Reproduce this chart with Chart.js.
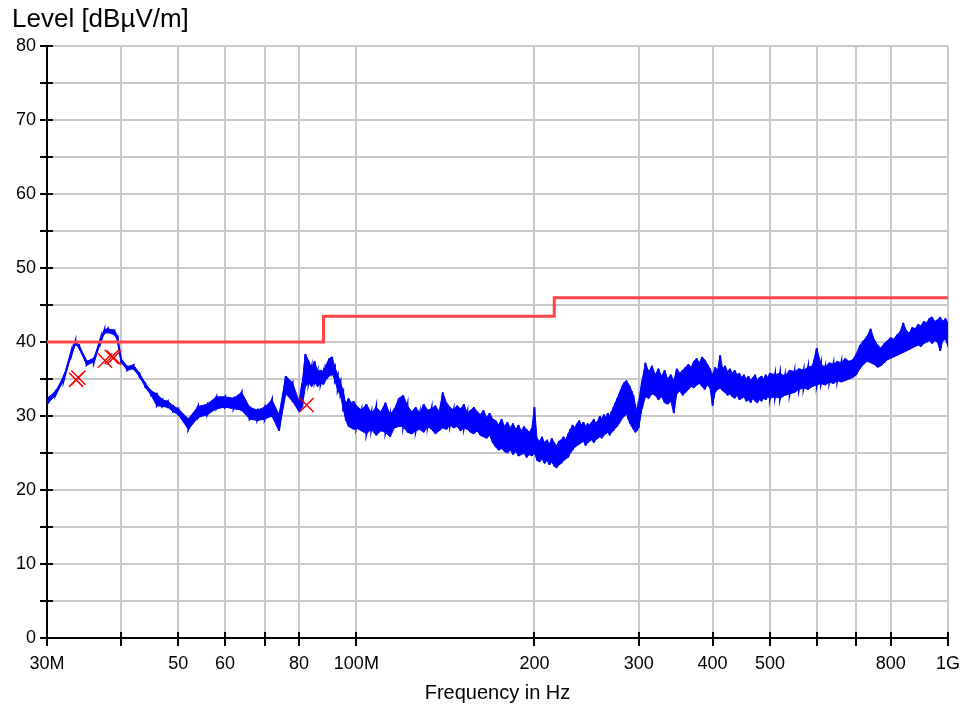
<!DOCTYPE html>
<html><head><meta charset="utf-8">
<script src="https://cdn.jsdelivr.net/npm/chart.js@4.4.1/dist/chart.umd.min.js"></script>
<style>html,body{margin:0;padding:0;background:#fff;}canvas{display:block;}</style>
</head><body>
<canvas id="c" width="960" height="706"></canvas>
<script>
// ---- measured trace (MHz), max/min level per frequency bin (dBµV/m)
const freqMHz = [
  30,31,32,33,33.5,34,35,36,37,37.5,38,39,39.5,40,41,42,43,44,45,46,47,48,49,50,
  52,54,56,58,60,62,64,66,68,70,72,74,76,78,80,
  81,82,83,84,85,86,87,88,89,90,91,92,93,94,95,96,97,98,99,100,
  102,104,106,108,110,112,114,116,118,120,122,124,126,128,130,132,134,136,138,140,
  142,144,146,148,150,152,154,156,158,160,162,164,166,168,170,172,174,176,178,180,
  182,184,186,188,190,192,194,196,198,200,
  202,204,206,208,210,212,214,216,218,220,222,224,226,228,230,232,234,236,238,240,
  242,244,246,248,250,252,254,256,258,260,262,264,266,268,270,272,274,276,278,280,
  282,284,286,288,290,292,294,296,298,300,
  304,308,312,316,320,324,328,332,336,340,344,348,352,356,360,364,368,372,376,380,
  384,388,392,396,400,404,408,412,416,420,424,428,432,436,440,444,448,452,456,460,
  464,468,472,476,480,484,488,492,496,500,
  510,520,530,540,550,560,570,580,590,600,610,620,630,640,650,660,670,680,690,700,
  710,720,730,740,750,760,770,780,790,800,810,820,830,840,850,860,870,880,890,900,
  910,920,930,940,950,960,970,980,990,1000
];
const levelMax = [
  32.4,33.3,35.3,38.8,40.1,39.6,37.4,37.8,40.6,41.6,41.8,41.6,40.8,37.8,36.7,36.9,35.8,34.4,33.4,33.0,32.2,32.0,31.4,31.0,
  29.6,31.3,31.6,32.6,32.6,32.4,33.2,31.2,30.8,31.2,32.2,30.2,35.4,34.5,32.0,
  34.5,38.4,37.5,36.5,37.4,36.0,36.2,36.0,37.0,37.8,38.0,36.6,35.6,34.6,33.4,31.6,32.4,31.8,32.0,31.4,
  30.8,31.6,30.4,31.2,30.6,31.8,30.2,31.0,32.4,32.8,31.4,30.6,31.2,30.4,31.6,30.8,31.0,31.4,30.6,33.2,
  31.8,31.2,30.8,31.4,31.0,31.6,30.4,30.8,31.2,30.6,30.2,30.8,29.8,30.4,29.6,29.4,28.8,29.6,28.6,29.2,
  28.4,29.0,28.2,28.8,28.0,28.6,28.2,27.8,28.4,31.2,
  27.0,26.6,27.2,26.4,26.8,26.2,27.0,26.4,26.0,26.6,26.8,27.2,26.8,27.6,28.2,28.8,28.4,29.0,29.4,28.8,
  29.2,28.6,29.0,28.8,29.2,29.6,29.0,29.4,30.0,29.6,30.2,29.8,30.4,30.0,30.6,31.2,31.8,32.4,33.0,33.6,
  34.2,34.6,34.8,34.4,34.0,33.4,32.8,31.6,30.6,32.0,
  34.8,37.2,36.0,36.8,35.6,36.4,35.4,36.2,35.0,35.6,34.8,36.4,35.8,36.2,36.6,37.0,36.6,37.4,37.8,37.2,
  38.0,37.6,37.0,36.4,35.6,36.6,36.2,38.2,36.4,36.8,36.0,36.4,35.8,36.2,35.6,35.8,35.2,35.6,35.0,35.4,
  34.8,35.2,35.6,34.8,35.2,35.4,35.0,35.6,35.2,35.8,
  35.6,35.8,35.4,36.2,36.0,36.4,36.2,36.6,36.8,39.2,37.0,36.6,37.2,37.0,37.4,37.2,37.8,37.4,37.6,38.4,
  39.6,40.2,40.8,41.8,40.4,39.6,39.2,39.8,40.2,40.6,40.4,41.0,41.4,42.6,41.6,41.2,42.0,41.8,42.4,42.2,
  42.8,42.6,43.2,43.4,42.8,43.0,43.4,42.8,43.2,42.6
];
const levelMin = [
  31.6,32.8,34.8,38.3,39.7,39.2,36.9,37.3,40.1,41.2,41.3,41.0,40.2,37.3,36.2,36.4,35.3,33.9,32.8,31.4,31.3,31.2,30.6,30.2,
  28.2,29.8,30.2,31.0,31.2,31.0,30.8,29.6,29.4,29.6,30.0,28.0,33.0,32.0,30.6,
  31.2,34.0,34.5,34.0,34.6,34.0,34.4,34.3,35.0,35.4,35.8,34.8,33.5,32.8,31.0,29.4,28.6,28.4,28.2,28.4,
  28.0,27.6,28.2,27.4,28.0,27.8,27.2,28.4,28.6,28.6,27.8,27.6,28.0,28.2,27.8,28.6,28.2,27.6,28.0,28.4,
  28.2,28.8,28.4,28.6,28.0,28.4,28.2,27.8,27.6,28.0,27.4,27.2,27.0,27.4,26.4,25.8,25.4,25.6,25.2,25.0,
  25.4,24.8,25.2,24.6,24.8,25.0,24.4,24.8,24.6,25.0,
  24.0,23.8,24.2,23.6,24.0,23.4,23.8,23.2,23.0,23.4,23.6,24.0,24.2,24.4,25.0,25.4,25.8,26.0,26.2,26.4,
  26.6,26.0,26.4,26.6,26.8,26.4,26.8,27.0,27.2,27.0,27.4,27.6,27.8,27.4,27.8,28.0,28.4,28.6,29.0,29.4,
  29.8,30.0,30.4,29.6,29.0,28.6,28.2,27.8,28.0,28.4,
  31.0,32.6,32.4,33.0,32.8,32.2,32.6,31.8,31.6,32.0,30.4,33.0,33.4,32.8,33.2,33.6,34.0,33.8,34.2,34.4,
  34.0,33.6,34.2,33.8,31.4,33.2,33.6,33.8,33.4,33.2,32.8,33.0,32.6,32.4,32.8,32.2,32.4,32.6,32.0,32.2,
  31.8,32.4,32.0,31.8,32.2,32.0,32.4,32.2,32.6,32.4,
  32.6,32.4,32.8,33.0,33.2,33.6,33.8,33.6,34.0,34.2,34.4,34.2,34.6,34.4,34.8,34.6,34.8,35.0,35.2,35.6,
  36.4,37.0,37.4,37.2,37.0,36.6,36.8,37.2,37.6,37.8,38.0,38.2,38.4,38.6,38.8,39.0,39.2,39.4,39.6,39.4,
  39.8,40.0,40.2,39.8,40.2,40.0,38.8,40.2,40.4,39.4
];
// ---- limit line (corner points)
const limitFreq = [30, 88, 88, 216, 216, 1000];
const limitLevel = [40, 40, 43.5, 43.5, 46, 46];
// ---- final measurement markers
const markerFreq = [33.6, 33.9, 37.6, 38.6, 38.9, 82.4];
const markerLevel = [34.9, 35.2, 37.5, 38.0, 37.9, 31.5];
// ---- axis ticks / texts
const xTickValues = [30,40,50,60,70,80,100,200,300,400,500,600,700,800,1000];
const xTickLabels = ['30M','','50','60','','80','100M','200','300','400','500','','','800','1G'];
const yTitle = 'Level [dBµV/m]';
const xTitle = 'Frequency in Hz';

const FONT = "'Liberation Sans', Arial, sans-serif";
const BLUE = '#0000ff';

const traceData = [];
freqMHz.forEach((f, i) => {
  traceData.push({x: f, y: levelMax[i]});
  traceData.push({x: f, y: levelMin[i]});
});
const maxData = freqMHz.map((f, i) => ({x: f, y: levelMax[i]}));
const minData = freqMHz.map((f, i) => ({x: f, y: levelMin[i]}));
const limitData = limitFreq.map((f, i) => ({x: f, y: limitLevel[i]}));
const markerData = markerFreq.map((f, i) => ({x: f, y: markerLevel[i]}));

const innerTicks = {
  id: 'innerTicks',
  beforeDatasetsDraw(chart) {
    const ctx = chart.ctx, ca = chart.chartArea, xs = chart.scales.x, ys = chart.scales.y;
    ctx.save();
    ctx.strokeStyle = '#000';
    ctx.lineWidth = 2;
    ctx.beginPath();
    xs.ticks.forEach(t => {
      const px = Math.round(xs.getPixelForValue(t.value));
      ctx.moveTo(px, ca.bottom); ctx.lineTo(px, ca.bottom - 6);
    });
    ys.ticks.forEach(t => {
      const py = Math.round(ys.getPixelForValue(t.value));
      ctx.moveTo(ca.left, py); ctx.lineTo(ca.left + 6, py);
    });
    ctx.stroke();
    ctx.restore();
  }
};

new Chart(document.getElementById('c'), {
  type: 'line',
  data: {
    datasets: [
      { label: 'markers', data: markerData, showLine: false, pointStyle: 'crossRot',
        pointRadius: 10, pointBorderColor: '#ff0000', pointBackgroundColor: '#ff0000',
        pointBorderWidth: 1.5, order: 0 },
      { label: 'limit', data: limitData, borderColor: '#ff4545',
        borderWidth: 3, pointRadius: 0, fill: false, order: 1 },
      { label: 'trace', data: traceData, borderColor: BLUE, borderWidth: 2,
        pointRadius: 0, fill: false, tension: 0, order: 2 },
      { label: 'traceMax', data: maxData, borderColor: BLUE, borderWidth: 1,
        pointRadius: 0, fill: false, tension: 0, order: 3 },
      { label: 'traceMin', data: minData, borderColor: BLUE, borderWidth: 1,
        backgroundColor: BLUE, pointRadius: 0, fill: { target: 3 }, tension: 0, order: 3 }
    ]
  },
  options: {
    responsive: false,
    animation: false,
    devicePixelRatio: 1,
    layout: { padding: { left: 12, right: 12, top: 0, bottom: 0 } },
    plugins: {
      legend: { display: false },
      tooltip: { enabled: false },
      filler: { propagate: false },
      title: { display: true, text: yTitle, align: 'start', color: '#000',
        font: { family: FONT, size: 26, weight: 'normal' }, padding: { top: 4, bottom: 11 } }
    },
    scales: {
      x: {
        type: 'logarithmic', min: 30, max: 1000,
        afterBuildTicks: s => { s.ticks = xTickValues.map(v => ({ value: v })); },
        afterFit: s => { s.height = 68; s.paddingRight = 0; s.paddingLeft = 0; },
        ticks: { autoSkip: false, maxRotation: 0, minRotation: 0, padding: 7, color: '#000',
          font: { family: FONT, size: 18 },
          callback: (v) => { const k = xTickValues.indexOf(v); return k >= 0 ? xTickLabels[k] : ''; } },
        grid: { color: '#c8c8c8', lineWidth: 2, tickColor: '#000', tickLength: 8, tickWidth: 2 },
        border: { display: true, color: '#000', width: 2 },
        title: { display: true, text: xTitle, color: '#000', font: { family: FONT, size: 20 },
          padding: { top: 0, bottom: 1 } }
      },
      y: {
        min: 0, max: 80,
        afterFit: s => { s.width = 35; },
        ticks: { stepSize: 5, padding: 4, color: '#000', font: { family: FONT, size: 18 },
          callback: v => (v % 10 === 0 ? String(v) : '') },
        grid: { color: '#c8c8c8', lineWidth: 2, tickColor: '#000', tickLength: 7, tickWidth: 2 },
        border: { display: true, color: '#000', width: 2 }
      }
    }
  },
  plugins: [innerTicks]
});
</script>
</body></html>
